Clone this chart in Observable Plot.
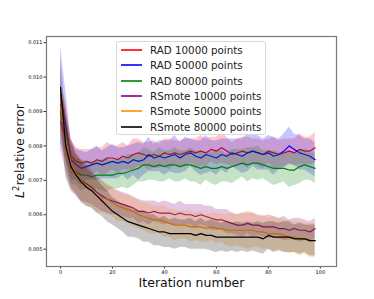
<!DOCTYPE html>
<html>
<head>
<meta charset="utf-8">
<script src="https://cdn.jsdelivr.net/npm/d3@7"></script>
<script src="https://cdn.jsdelivr.net/npm/@observablehq/plot@0.6"></script>
<style>
  body { margin: 0; background: #fff; }
  #wrap { position: relative; width: 374px; height: 299px; font-family: "DejaVu Sans", sans-serif; }
  #legend { position: absolute; left: 116px; top: 41px; width: 150px; height: 94px;
    background: rgba(255,255,255,0.85); border: 1px solid #d8d8d8; border-radius: 3px; box-sizing: border-box; }
  .row { position: absolute; left: 0; height: 14px; display: flex; align-items: center; font-size: 10.3px; color: #222; white-space: nowrap; }
  .sw { width: 21px; height: 0; border-top: 2px solid; margin-left: 4px; margin-right: 8px; opacity: 0.8; }
</style>
</head>
<body>
<div id="wrap"><div id="legend"></div></div>
<script>
// Values in units of 1e-4 (e.g. 75 = 0.0075), sampled every 2 iterations (0..98)
const seriesNames = ["RAD 10000 points", "RAD 50000 points", "RAD 80000 points",
  "RSmote 10000 points", "RSmote 50000 points", "RSmote 80000 points"];
const seriesColors = ["red", "blue", "green", "purple", "darkorange", "black"];

const rad10kMean = [92,85,77,75.5,75,75.5,75,76,75.5,76.5,76.5,76,77,76.5,77.5,78,77.5,77,77.5,77,78,77.5,78,77.5,78,78.5,78,78.5,78,79,78.5,79.5,78.5,77.5,78,78.5,78,78.5,78,77.5,78.5,78,77.5,78,78.5,78,79,78.5,78.5,79.5];
const rad50kMean = [95,86,76,74.5,73.5,74,74.5,75,74.5,75,75.5,75,75.5,75,76,75.5,76,77.5,76.5,77,76.5,77,77.5,76.5,77.5,78,77,76.5,77.5,77,76.5,77.5,77,78,77.5,77,78,78.5,78,77.5,78,77,77.5,78.5,80,79,78,77.5,77,76];
const rad80kMean = [90,83,74,72.5,71.5,71.5,71,71.5,71.5,71.5,71.5,72,72,72.5,73,73.5,74.5,74.5,74,74.5,74,74.5,74.5,74,74.5,74.5,74,73.5,74,73.5,73.5,74,73.5,74,74.5,75,74.5,75,75,74.5,74,73.5,73.5,73.5,73,73,74,74.5,74,73.5];
const rs10kMean = [87,82,75,72,70,69,68,66.5,65.5,64.5,64,63.5,63,62.5,62,61,61,60.5,61,60.5,60.5,60.5,60,60.5,60,60,59.5,60,59.5,59,58.5,58.5,58,57.5,57,57,57.5,57,57,56.5,56.5,56.5,56,56,55.5,56,55.5,55.5,55,56];
const rs50kMean = [91.5,82,75,72,70,68,67,65.5,65,64.5,63.5,62.5,62,61.5,61,60,59.5,59,58.5,58.5,58,57.5,57,57,57,56.5,56.5,56.5,56,56.5,56,56,55.5,55.5,55.5,55.5,55.5,55.5,55,55,54.5,54.5,54.5,54,53.5,53.5,53,53,52.5,52.5];
const rs80kMean = [97,80,74,71.5,69.5,68,67,65.5,64,62.5,61,60,59,58,57.5,57,56.5,56,55.5,55,55,54.5,54.5,54.5,54.5,54.5,54,54.5,54,54,53.5,53.5,53.5,53.5,53.5,53.5,53.5,53.5,53.5,53,54,53.5,53.5,53.5,53.5,53,53,53,52.5,52.5];

const rad10kSpread = [6,8,5,4,4,3.5,4,3.5,4,4.5,3.5,4,4,3.5,4.5,4,3.5,4,4,3.5,4,4.5,3.5,4,4,3.5,4,4.5,4,3.5,4,4.5,4,3.5,4,4,4.5,3.5,4,4,3.5,4.5,4,4,3.5,4,4.5,4,4,4.5];
const rad50kSpread = [14,10,6,4.5,5,4,4.5,5,4,4.5,5,4.5,4,5,4.5,5.5,4.5,5,4,4.5,5,4.5,5.5,4.5,5,4,4.5,5,5.5,4.5,5,4.5,5,4,4.5,5,5.5,4.5,5,4.5,5,5.5,4.5,5,5.5,4.5,5,4.5,5,5];
const rad80kSpread = [6,7,5,4,4.5,4,4.5,4,4.5,5,4,4.5,4,5,4.5,4,5,4.5,4,5,4.5,4,5,4.5,4,5,4.5,5,4,4.5,5,4.5,4,5,4.5,4,5,4.5,5,4,4.5,5,4.5,4,5,4.5,5,4.5,4,4.5];
const rs10kSpread = [8,9,7,6,6,5.5,5,4.5,4.5,4,4,3.5,3.5,3.5,3,3.5,3,3.5,3,3,3.5,3,3,3.5,3,3,3.5,3,3,3.5,3,3,3.5,3,3,3.5,3,3.5,3,3,3.5,3,3,3.5,3,3,3.5,3,3,3];
const rs50kSpread = [7,9,7,6,6,5.5,5,5,4.5,4.5,4,4.5,4,4,4.5,4,4,4.5,4,4,4.5,4,4.5,4,4,4.5,4,4.5,4,4,4.5,4,4.5,5,4.5,5,5.5,5,4.5,5,4.5,5,4.5,4.5,5,4.5,5,4.5,5,5];
const rs80kSpread = [8,9,7,6,6,5.5,5,5,4.5,4.5,4,4,4,4.5,4,4,4.5,4,4.5,4,4.5,4,4.5,4,4,4.5,4,4.5,4,4.5,4.5,4,4.5,4,4.5,4,4.5,4,4.5,4.5,4,4.5,4,4.5,4.5,4,4.5,4,4.5,4.5];

const xTicks = [0, 20, 40, 60, 80, 100];
const yTicks = [0.005, 0.006, 0.007, 0.008, 0.009, 0.010, 0.011];

const means = [rad10kMean, rad50kMean, rad80kMean, rs10kMean, rs50kMean, rs80kMean];
const spreads = [rad10kSpread, rad50kSpread, rad80kSpread, rs10kSpread, rs50kSpread, rs80kSpread];
const iters = rad10kMean.map((_, k) => k * 2);

const marks = [];
seriesNames.forEach((name, s) => {
  const rows = means[s].map((m, k) => ({
    x: iters[k], y: m * 1e-4,
    lo: (m - spreads[s][k]) * 1e-4, hi: (m + spreads[s][k]) * 1e-4
  }));
  marks.push(Plot.areaY(rows, {x: "x", y1: "lo", y2: "hi", fill: seriesColors[s], fillOpacity: 0.22}));
  marks.push(Plot.lineY(rows, {x: "x", y: "y", stroke: seriesColors[s], strokeWidth: 1.2}));
});

const chart = Plot.plot({
  width: 374, height: 299,
  marginLeft: 46, marginRight: 38, marginTop: 36, marginBottom: 33,
  style: {fontFamily: "DejaVu Sans, sans-serif", background: "#fff"},
  x: {domain: [-5.4, 106.2], ticks: xTicks, label: null},
  y: {domain: [0.0044967, 0.01118], ticks: yTicks, label: null, tickFormat: d3.format(".3f")},
  marks: [
    ...marks,
    Plot.axisX({ticks: xTicks, tickSize: 2.5, tickPadding: 1.5, fontSize: 5, label: null, stroke: "#333"}),
    Plot.axisY({ticks: yTicks, tickSize: 2.5, tickPadding: 1.5, fontSize: 5, label: null, tickFormat: d3.format(".3f"), stroke: "#333"}),
    Plot.frame({stroke: "#777", strokeWidth: 1.2})
  ]
});

const wrap = document.getElementById("wrap");
wrap.insertBefore(chart, wrap.firstChild);

const svg = d3.select(chart);
svg.append("text")
  .attr("x", 191.5).attr("y", 287)
  .attr("text-anchor", "middle")
  .attr("font-size", 12.5).attr("fill", "#111")
  .attr("font-family", "DejaVu Sans, sans-serif")
  .text("Iteration number");

const yl = svg.append("text")
  .attr("transform", "translate(24,151) rotate(-90)")
  .attr("text-anchor", "middle")
  .attr("font-size", 12.5).attr("fill", "#111")
  .attr("font-family", "DejaVu Sans, sans-serif");
yl.append("tspan").attr("font-style", "italic").text("L");
yl.append("tspan").attr("font-size", 8.5).attr("dy", -5).text("2");
yl.append("tspan").attr("dy", 5).text("relative error");

const legend = document.getElementById("legend");
seriesNames.forEach((name, s) => {
  const row = document.createElement("div");
  row.className = "row";
  row.style.top = (1 + s * 15.3) + "px";
  const sw = document.createElement("div");
  sw.className = "sw";
  sw.style.borderTopColor = seriesColors[s];
  const label = document.createElement("span");
  label.textContent = name;
  row.appendChild(sw);
  row.appendChild(label);
  legend.appendChild(row);
});
</script>
</body>
</html>
